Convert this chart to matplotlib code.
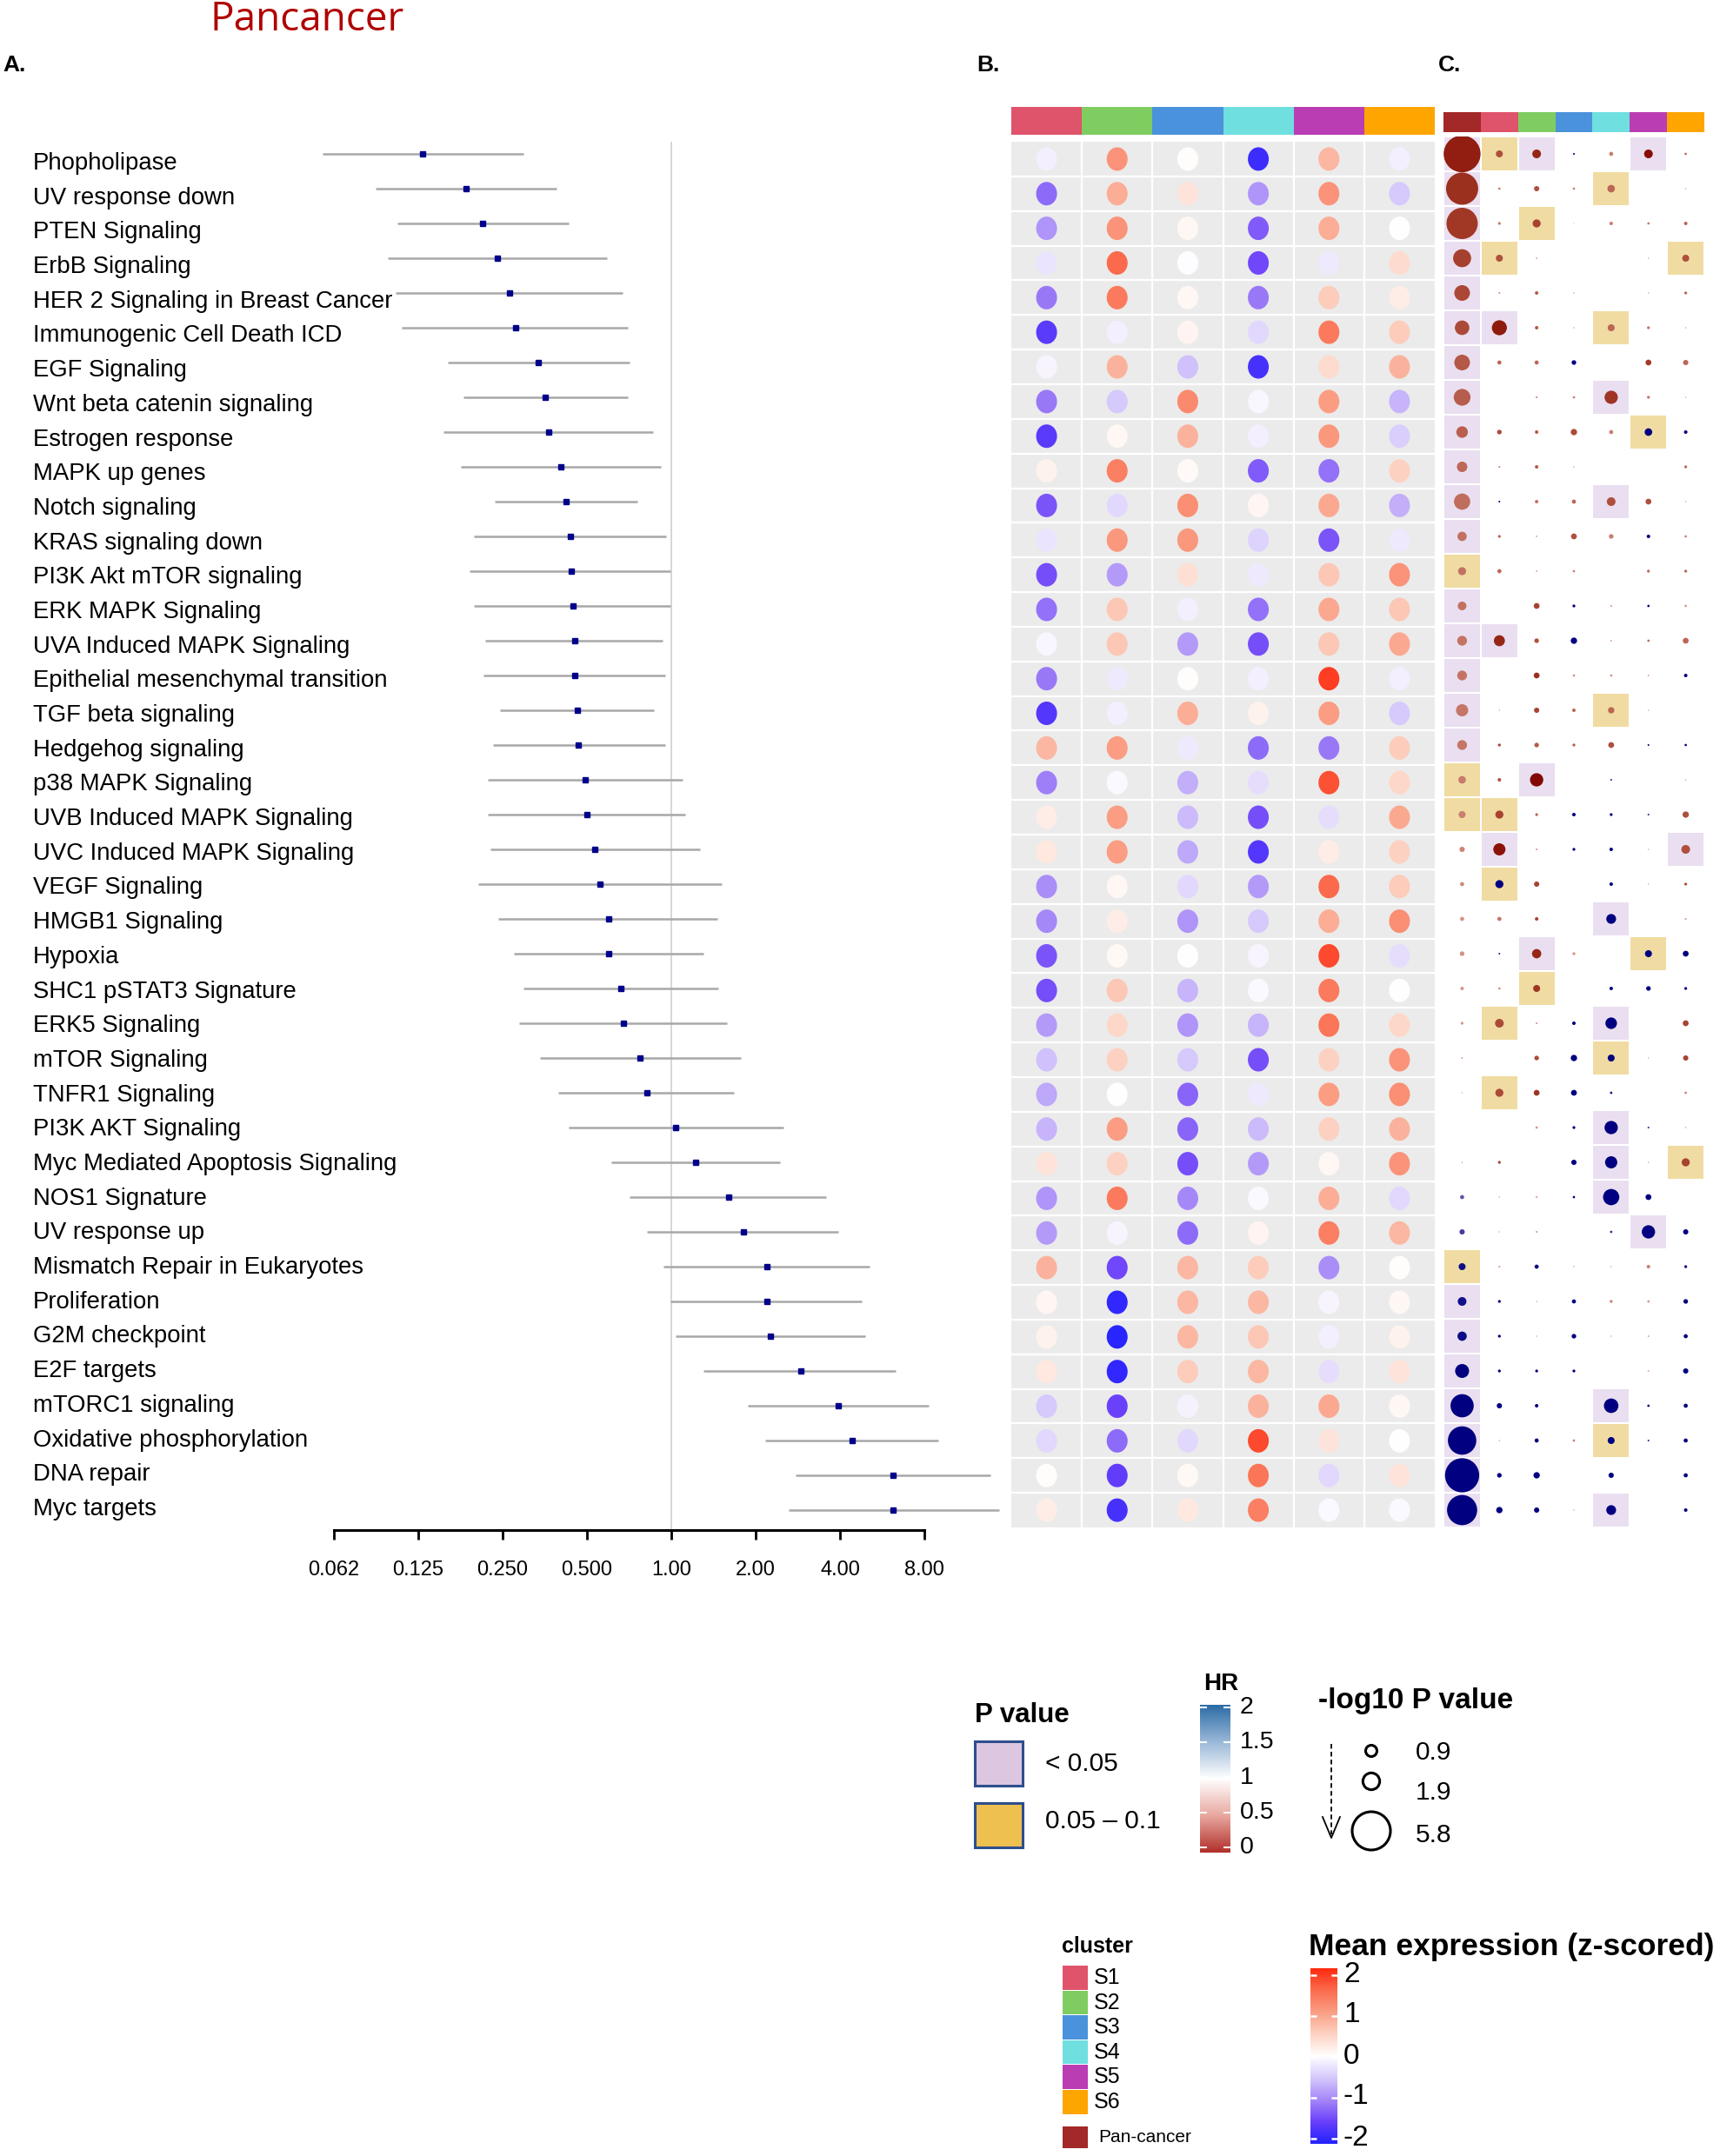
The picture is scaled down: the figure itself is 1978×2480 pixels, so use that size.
import numpy as np
import matplotlib
matplotlib.use('Agg')
import matplotlib.pyplot as plt
from matplotlib.colors import LinearSegmentedColormap
from matplotlib.patches import Rectangle, Circle
from matplotlib.path import Path

plt.rcParams['font.family'] = ['Liberation Sans', 'DejaVu Sans']

# ---- data ----
pathways = ['Phopholipase', 'UV response down', 'PTEN Signaling', 'ErbB Signaling',
            'HER 2 Signaling in Breast Cancer', 'Immunogenic Cell Death ICD', 'EGF Signaling',
            'Wnt beta catenin signaling', 'Estrogen response', 'MAPK up genes', 'Notch signaling',
            'KRAS signaling down', 'PI3K Akt mTOR signaling', 'ERK MAPK Signaling',
            'UVA Induced MAPK Signaling', 'Epithelial mesenchymal transition', 'TGF beta signaling',
            'Hedgehog signaling', 'p38 MAPK Signaling', 'UVB Induced MAPK Signaling',
            'UVC Induced MAPK Signaling', 'VEGF Signaling', 'HMGB1 Signaling', 'Hypoxia',
            'SHC1 pSTAT3 Signature', 'ERK5 Signaling', 'mTOR Signaling', 'TNFR1 Signaling',
            'PI3K AKT Signaling', 'Myc Mediated Apoptosis Signaling', 'NOS1 Signature',
            'UV response up', 'Mismatch Repair in Eukaryotes', 'Proliferation', 'G2M checkpoint',
            'E2F targets', 'mTORC1 signaling', 'Oxidative phosphorylation', 'DNA repair', 'Myc targets']

# pan-cancer hazard ratio and 95% CI (panel A)
hr = [0.13, 0.185, 0.212, 0.24, 0.265, 0.278, 0.336, 0.355, 0.364, 0.403, 0.421, 0.436, 0.441,
      0.446, 0.451, 0.451, 0.461, 0.466, 0.494, 0.499, 0.534, 0.558, 0.598, 0.598, 0.662, 0.677,
      0.775, 0.82, 1.04, 1.22, 1.60, 1.81, 2.19, 2.19, 2.26, 2.90, 3.94, 4.41, 6.19, 6.19]
hr_lo = [0.057, 0.088, 0.105, 0.097, 0.104, 0.109, 0.159, 0.181, 0.154, 0.177, 0.234, 0.198, 0.191,
         0.198, 0.216, 0.214, 0.245, 0.231, 0.221, 0.221, 0.226, 0.204, 0.242, 0.274, 0.297, 0.287,
         0.340, 0.394, 0.431, 0.611, 0.708, 0.820, 0.939, 0.99, 1.04, 1.30, 1.87, 2.16, 2.78, 2.62]
hr_hi = [0.297, 0.389, 0.431, 0.591, 0.669, 0.700, 0.708, 0.700, 0.858, 0.918, 0.758, 0.960, 0.99,
         0.99, 0.928, 0.949, 0.868, 0.949, 1.10, 1.125, 1.27, 1.51, 1.46, 1.30, 1.47, 1.58, 1.77,
         1.67, 2.51, 2.45, 3.56, 3.94, 5.11, 4.77, 4.93, 6.33, 8.29, 8.98, 13.8, 14.8]

clusters = ['S1', 'S2', 'S3', 'S4', 'S5', 'S6']
cluster_colors = ['#DF536B', '#7FCD60', '#4A92DB', '#6FDFE0', '#BA3DB3', '#FFA500']
pan_color = '#A32828'

# panel B: mean expression (z-scored), rows = pathways, cols = S1..S6
expr_rows = [
    [-0.15, 1.1, 0.02, -1.8, 0.75, -0.15], [-1.2, 0.85, 0.3, -0.9, 1.1, -0.5],
    [-0.9, 1.1, 0.08, -1.3, 0.85, 0.0], [-0.25, 1.5, -0.03, -1.45, -0.2, 0.4],
    [-1.1, 1.35, 0.08, -1.1, 0.55, 0.2], [-1.6, -0.15, 0.12, -0.35, 1.35, 0.55],
    [-0.1, 0.8, -0.55, -1.75, 0.4, 0.8], [-1.1, -0.5, 1.2, -0.08, 1.0, -0.65],
    [-1.6, 0.08, 0.8, -0.15, 1.05, -0.45], [0.15, 1.3, 0.05, -1.3, -1.15, 0.5],
    [-1.35, -0.35, 1.15, 0.1, 0.9, -0.7], [-0.25, 1.05, 1.05, -0.4, -1.35, -0.2],
    [-1.4, -0.85, 0.35, -0.2, 0.6, 1.1], [-1.15, 0.6, -0.15, -1.15, 0.9, 0.6],
    [-0.08, 0.6, -0.85, -1.4, 0.6, 0.9], [-1.1, -0.2, 0.02, -0.15, 1.85, -0.15],
    [-1.65, -0.15, 0.85, 0.15, 1.0, -0.5], [0.75, 1.0, -0.2, -1.2, -1.1, 0.55],
    [-1.05, -0.05, -0.7, -0.3, 1.7, 0.45], [0.2, 1.0, -0.6, -1.4, -0.3, 0.9],
    [0.25, 1.0, -0.75, -1.65, 0.2, 0.5], [-0.95, 0.08, -0.35, -0.85, 1.5, 0.55],
    [-1.0, 0.2, -0.9, -0.5, 0.85, 1.15], [-1.35, 0.07, 0.0, -0.1, 1.75, -0.3],
    [-1.4, 0.6, -0.65, -0.05, 1.35, 0.0], [-0.85, 0.45, -0.9, -0.65, 1.4, 0.45],
    [-0.55, 0.5, -0.5, -1.4, 0.5, 1.1], [-0.75, 0.0, -1.25, -0.2, 1.0, 1.15],
    [-0.65, 1.0, -1.25, -0.6, 0.5, 0.8], [0.3, 0.5, -1.4, -0.85, 0.08, 1.1],
    [-0.9, 1.35, -1.0, -0.05, 0.85, -0.35], [-0.85, -0.1, -1.2, 0.12, 1.3, 0.75],
    [0.8, -1.45, 0.75, 0.55, -0.95, 0.02], [0.1, -1.9, 0.75, 0.75, -0.1, 0.08],
    [0.15, -1.95, 0.75, 0.6, -0.15, 0.15], [0.25, -1.9, 0.55, 0.75, -0.3, 0.3],
    [-0.5, -1.5, -0.12, 0.8, 0.9, 0.08], [-0.35, -1.2, -0.35, 1.75, 0.3, 0.0],
    [0.03, -1.55, 0.07, 1.4, -0.35, 0.3], [0.2, -1.75, 0.25, 1.3, -0.05, -0.05]]

# panel C: -log10 P (cols = Pan-cancer, S1..S6)
nlogp_rows = [
    [5.6, 0.95, 1.22, 0.14, 0.5, 1.22, 0.23], [4.86, 0.23, 0.68, 0.23, 1.04, 0, 0.05],
    [4.73, 0.31, 1.12, 0.03, 0.41, 0.23, 0.41], [2.66, 0.95, 0.1, 0, 0, 0.05, 0.95],
    [2.3, 0.14, 0.41, 0.05, 0, 0.05, 0.31], [2.12, 2.2, 0.41, 0.05, 0.95, 0.31, 0.05],
    [2.3, 0.5, 0.5, 0.58, 0, 0.77, 0.68], [2.47, 0, 0.14, 0.23, 1.93, 0.31, 0.05],
    [1.66, 0.58, 0.41, 0.85, 0.5, 1.04, 0.41], [1.49, 0.14, 0.41, 0.05, 0, 0, 0.31],
    [2.39, 0.14, 0.41, 0.5, 1.22, 0.77, 0.05], [1.31, 0.31, 0.1, 0.77, 0.58, 0.41, 0.23],
    [1.12, 0.5, 0.1, 0.23, 0, 0.31, 0.31], [1.22, 0, 0.77, 0.31, 0.14, 0.23, 0.23],
    [1.39, 1.58, 0.58, 0.85, 0.1, 0.23, 0.77], [1.39, 0, 0.77, 0.23, 0.23, 0.1, 0.41],
    [1.76, 0.05, 0.68, 0.41, 0.85, 0.05, 0], [1.39, 0.31, 0.58, 0.31, 0.77, 0.14, 0.23],
    [1.04, 0.41, 1.93, 0, 0.14, 0, 0.05], [0.95, 1.12, 0.31, 0.41, 0.31, 0.14, 0.85],
    [0.68, 1.76, 0.14, 0.31, 0.41, 0.05, 1.22], [0.5, 1.12, 0.68, 0, 0.41, 0.05, 0.31],
    [0.5, 0.5, 0.41, 0, 1.39, 0, 0.14], [0.58, 0.14, 1.31, 0.31, 0, 0.95, 0.77],
    [0.41, 0.23, 0.95, 0, 0.41, 0.58, 0.31], [0.31, 1.22, 0.14, 0.41, 1.66, 0, 0.77],
    [0.14, 0, 0.58, 0.85, 0.95, 0.05, 0.68], [0.05, 1.12, 0.77, 0.77, 0.23, 0, 0.23],
    [0, 0, 0.23, 0.31, 1.93, 0.14, 0.05], [0.05, 0.31, 0, 0.68, 1.76, 0.05, 1.12],
    [0.5, 0.05, 0.14, 0.23, 2.39, 0.77, 0], [0.68, 0.05, 0.14, 0, 0.23, 1.93, 0.68],
    [0.95, 0.14, 0.5, 0.05, 0.05, 0.41, 0.31], [1.22, 0.31, 0.05, 0.5, 0.31, 0.23, 0.58],
    [1.31, 0.31, 0.05, 0.58, 0.05, 0.1, 0.5], [2.03, 0.31, 0.31, 0.31, 0, 0.1, 0.68],
    [3.47, 0.68, 0.41, 0, 2.12, 0.23, 0.5], [4.28, 0.05, 0.5, 0.23, 0.95, 0.14, 0.5],
    [5.18, 0.58, 0.85, 0, 0.68, 0, 0.5], [4.55, 0.85, 0.68, 0.05, 1.39, 0, 0.41]]

# panel C: HR per cluster (S1..S6); pan-cancer column uses hr above
hr_cluster_rows = [
    [0.3, 0.15, 2.5, 0.5, 0.08, 0.4], [0.5, 0.3, 0.5, 0.4, 1.0, 0.6],
    [0.5, 0.25, 1.0, 0.5, 0.45, 0.4], [0.3, 0.6, 1.0, 1.0, 0.6, 0.3],
    [0.6, 0.35, 0.6, 1.0, 0.6, 0.4], [0.12, 0.35, 0.6, 0.4, 0.45, 0.6],
    [0.4, 0.4, 2.5, 1.0, 0.22, 0.4], [1.0, 0.5, 0.5, 0.2, 0.45, 0.6],
    [0.28, 0.35, 0.28, 0.5, 2.5, 2.5], [0.5, 0.35, 0.6, 1.0, 1.0, 0.4],
    [2.5, 0.45, 0.4, 0.3, 0.3, 0.6], [0.4, 0.6, 0.3, 0.5, 2.5, 0.5],
    [0.4, 0.6, 0.5, 1.0, 0.4, 0.4], [1.0, 0.25, 2.5, 0.6, 2.5, 0.6],
    [0.15, 0.3, 2.5, 0.6, 0.4, 0.4], [1.0, 0.18, 0.6, 0.6, 0.6, 2.5],
    [0.6, 0.25, 0.4, 0.4, 0.6, 1.0], [0.25, 0.35, 0.35, 0.3, 2.5, 2.5],
    [0.3, 0.05, 1.0, 2.0, 1.0, 0.6], [0.25, 0.4, 2.5, 2.5, 2.0, 0.3],
    [0.1, 0.6, 2.5, 2.5, 0.6, 0.3], [2.5, 0.25, 1.0, 2.5, 0.6, 0.3],
    [0.45, 0.25, 1.0, 2.5, 1.0, 0.6], [2.0, 0.15, 0.6, 1.0, 2.5, 2.5],
    [0.6, 0.2, 1.0, 2.5, 2.5, 2.5], [0.28, 0.6, 2.5, 2.5, 1.0, 0.25],
    [1.0, 0.28, 2.5, 2.5, 0.6, 0.25], [0.28, 0.2, 2.5, 2.5, 1.0, 0.5],
    [1.0, 0.6, 2.5, 2.5, 2.0, 0.6], [0.25, 1.0, 2.5, 2.5, 0.6, 0.25],
    [0.6, 0.6, 2.5, 2.5, 2.5, 1.0], [0.6, 0.6, 1.0, 2.0, 2.5, 2.5],
    [0.6, 2.5, 0.6, 0.6, 0.5, 2.5], [2.5, 0.6, 2.5, 0.5, 0.6, 2.5],
    [2.5, 0.6, 2.5, 0.6, 0.6, 2.5], [2.5, 2.5, 2.5, 1.0, 0.6, 2.5],
    [2.5, 2.5, 1.0, 2.5, 2.5, 2.5], [0.6, 2.5, 0.5, 2.5, 2.0, 2.5],
    [2.5, 2.5, 1.0, 2.5, 1.0, 2.5], [2.5, 2.5, 0.6, 2.5, 1.0, 2.5]]

# panel C: P value class (0 = n.s., 1 = < 0.05, 2 = 0.05-0.1)
sig_rows = [
    [1, 2, 1, 0, 0, 1, 0], [1, 0, 0, 0, 2, 0, 0], [1, 0, 2, 0, 0, 0, 0], [1, 2, 0, 0, 0, 0, 2],
    [1, 0, 0, 0, 0, 0, 0], [1, 1, 0, 0, 2, 0, 0], [1, 0, 0, 0, 0, 0, 0], [1, 0, 0, 0, 1, 0, 0],
    [1, 0, 0, 0, 0, 2, 0], [1, 0, 0, 0, 0, 0, 0], [1, 0, 0, 0, 1, 0, 0], [1, 0, 0, 0, 0, 0, 0],
    [2, 0, 0, 0, 0, 0, 0], [1, 0, 0, 0, 0, 0, 0], [1, 1, 0, 0, 0, 0, 0], [1, 0, 0, 0, 0, 0, 0],
    [1, 0, 0, 0, 2, 0, 0], [1, 0, 0, 0, 0, 0, 0], [2, 0, 1, 0, 0, 0, 0], [2, 2, 0, 0, 0, 0, 0],
    [0, 1, 0, 0, 0, 0, 1], [0, 2, 0, 0, 0, 0, 0], [0, 0, 0, 0, 1, 0, 0], [0, 0, 1, 0, 0, 2, 0],
    [0, 0, 2, 0, 0, 0, 0], [0, 2, 0, 0, 1, 0, 0], [0, 0, 0, 0, 2, 0, 0], [0, 2, 0, 0, 0, 0, 0],
    [0, 0, 0, 0, 1, 0, 0], [0, 0, 0, 0, 1, 0, 2], [0, 0, 0, 0, 1, 0, 0], [0, 0, 0, 0, 0, 1, 0],
    [2, 0, 0, 0, 0, 0, 0], [1, 0, 0, 0, 0, 0, 0], [1, 0, 0, 0, 0, 0, 0], [1, 0, 0, 0, 0, 0, 0],
    [1, 0, 0, 0, 1, 0, 0], [1, 0, 0, 0, 2, 0, 0], [1, 0, 0, 0, 0, 0, 0], [1, 0, 0, 0, 1, 0, 0]]

xticks_hr = [0.0625, 0.125, 0.25, 0.5, 1, 2, 4, 8]
xtick_labels = ['0.062', '0.125', '0.250', '0.500', '1.00', '2.00', '4.00', '8.00']
legend_nlogp = [0.9, 1.9, 5.8]

# ---- colour maps ----
expr_cmap = LinearSegmentedColormap.from_list(
    'expr', [(0, '#2222FF'), (0.125, '#6A40FA'), (0.25, '#A587F8'), (0.375, '#D6C8FC'),
             (0.5, '#FFFFFF'), (0.625, '#FDD2C2'), (0.75, '#FA9E84'), (0.875, '#FB6C4E'),
             (1, '#FF2A10')])
dot_nodes = [(0.0, '#7A0000'), (0.1, '#8B1208'), (0.15, '#962818'), (0.22, '#A43C2A'),
             (0.3, '#B05040'), (0.45, '#C47464'), (0.6, '#D39282'), (0.85, '#DDAAA0'),
             (1.0, '#E2C4C4'), (1.4, '#8068B8'), (1.8, '#5038A0'), (2.2, '#10108A'), (2.5, '#000080')]
dot_cmap = LinearSegmentedColormap.from_list('hrdot', [(v / 2.5, c) for v, c in dot_nodes])
hr_cmap = LinearSegmentedColormap.from_list('hrbar', ['#B0302A', '#E8A8A0', '#FFFFFF', '#9AB8D8', '#2C6CA6'])

W, H = 1978, 2480
PT = 72 / 100
fig = plt.figure(figsize=(W / 100, H / 100), dpi=100)


def px_axes(x0, y0, x1, y1):
    return fig.add_axes([x0 / W, 1 - y1 / H, (x1 - x0) / W, (y1 - y0) / H])


rows = np.arange(len(pathways))

# ---- panel A: forest plot ----
axA = px_axes(384, 163, 1160, 1760)
axA.set_xscale('log', base=2)
axA.set_xlim(2 ** -4, 2 ** 4)
axA.set_ylim(39.575, -0.35)
axA.axvline(1, color='#CCCCCC', lw=1.1, zorder=0)
axA.hlines(rows, hr_lo, hr_hi, color='#A8A8A8', lw=1.8, clip_on=False, zorder=1)
axA.plot(hr, rows, 's', color='#00008B', ms=5, zorder=3, clip_on=False)
for s in ['left', 'right', 'top']:
    axA.spines[s].set_visible(False)
axA.spines['bottom'].set_linewidth(2.2)
axA.spines['bottom'].set_bounds(2 ** -4, 8)
axA.set_xticks(xticks_hr)
axA.set_xticklabels(xtick_labels)
axA.xaxis.set_minor_locator(matplotlib.ticker.NullLocator())
axA.tick_params(axis='x', length=8, width=2, pad=17, labelsize=17)
axA.set_yticks([])
axA.patch.set_alpha(0)

# ---- panel B: mean expression dots ----
axBb = px_axes(1163, 123, 1650, 155)
axBb.bar(range(6), 1, width=1, color=cluster_colors)
axBb.set_xlim(-0.5, 5.5)
axBb.set_ylim(0, 1)
axBb.axis('off')

axB = px_axes(1163, 163, 1650, 1757)
axB.set_facecolor('#EBEBEB')
axB.set_xlim(-0.5, 5.5)
axB.set_ylim(39.5, -0.5)
for x in np.arange(0.5, 5, 1):
    axB.axvline(x, color='white', lw=1.6)
for y in np.arange(0.5, 39, 1):
    axB.axhline(y, color='white', lw=1.6)
t = np.linspace(0, 2 * np.pi, 64)
ellipse = Path(np.column_stack([0.89 * np.cos(t), np.sin(t)]))
bx, by = np.meshgrid(np.arange(6), rows)
axB.scatter(bx.ravel(), by.ravel(), c=np.array(expr_rows).ravel(), cmap=expr_cmap,
            vmin=-2, vmax=2, s=(27 * PT) ** 2, marker=ellipse, linewidths=0, zorder=3)
for s in axB.spines.values():
    s.set_visible(False)
axB.set_xticks([])
axB.set_yticks([])

# ---- panel C: survival dots ----
axCb = px_axes(1660, 129, 1960, 152)
axCb.bar(range(7), 1, width=1, color=[pan_color] + cluster_colors)
axCb.set_xlim(-0.5, 6.5)
axCb.set_ylim(0, 1)
axCb.axis('off')

axC = px_axes(1660, 157, 1960, 1757)
axC.set_xlim(-0.5, 6.5)
axC.set_ylim(39.5, -0.5)
axC.axis('off')
sig = np.array(sig_rows)
bg = {1: '#EADFF0', 2: '#F0DCA2'}
for i in range(sig.shape[0]):
    for j in range(sig.shape[1]):
        if sig[i, j]:
            axC.add_patch(Rectangle((j - 0.48, i - 0.48), 0.96, 0.96, fc=bg[sig[i, j]], ec='none', zorder=1))
nlogp = np.array(nlogp_rows)
hr_all = np.column_stack([hr, np.array(hr_cluster_rows)])
diam = np.where(nlogp > 0, 1 + 7.4 * nlogp, 0)
cx, cy = np.meshgrid(np.arange(7), rows)
axC.scatter(cx.ravel(), cy.ravel(), s=(diam.ravel() * PT) ** 2, c=hr_all.ravel(), cmap=dot_cmap,
            vmin=0, vmax=2.5, linewidths=0, zorder=3)

# ---- overlay for text and legends (pixel coordinates) ----
leg = fig.add_axes([0, 0, 1, 1])
leg.set_xlim(0, W)
leg.set_ylim(H, 0)
leg.axis('off')
leg.patch.set_alpha(0)

# pathway names (their own slightly tighter spacing than the forest rows)
for i, name in enumerate(pathways):
    leg.text(38, 195 + 39.69 * i, name, ha='left', va='baseline', fontsize=19.8)

leg.text(353, 35, 'Pancancer', color='#B00000', fontsize=33, ha='center', va='baseline',
         family='Open Sans')
for lab, x in [('A.', 3), ('B.', 1123), ('C.', 1654)]:
    leg.text(x, 82, lab, fontsize=19, fontweight='bold', ha='left', va='baseline')

# P value legend
leg.text(1121, 1973, 'P value', fontsize=22.5, fontweight='bold', ha='left', va='center')
leg.add_patch(Rectangle((1121, 2003), 55, 51, fc='#DCC6E0', ec='#2E4E8C', lw=2.2))
leg.add_patch(Rectangle((1121, 2074), 55, 51, fc='#EEC050', ec='#2E4E8C', lw=2.2))
leg.text(1202, 2029, '< 0.05', fontsize=21.5, ha='left', va='center')
leg.text(1202, 2095, '0.05 \u2013 0.1', fontsize=21.5, ha='left', va='center')

# HR colour bar
leg.text(1404, 1937, 'HR', fontsize=20, fontweight='bold', ha='center', va='center')
axH = px_axes(1380, 1961, 1415, 2131)
axH.imshow(np.linspace(0, 2, 256)[:, None], aspect='auto', cmap=hr_cmap, origin='lower',
           extent=(0, 1, -0.075, 2.037), vmin=0, vmax=2)
hr_ticks = [0, 0.5, 1, 1.5, 2]
axH.hlines(hr_ticks, 0, 0.22, color='white', lw=1.5)
axH.hlines(hr_ticks, 0.78, 1, color='white', lw=1.5)
axH.set_xlim(0, 1)
axH.set_ylim(-0.075, 2.037)
axH.axis('off')
for tk in hr_ticks:
    leg.text(1426, 2125 - 80.5 * tk, '%g' % tk, fontsize=20.5, ha='left', va='center')

# -log10 P size legend
leg.text(1516, 1957, '-log10 P value', fontsize=24, fontweight='bold', ha='left', va='center')
leg.plot([1531, 1531], [2006, 2110], color='black', lw=1.3, ls=(0, (3, 2)))
leg.plot([1521, 1531, 1541], [2090, 2114, 2090], color='black', lw=1.3)
for v, y, ty in zip(legend_nlogp, [2014, 2049, 2106], [2016, 2062, 2111]):
    leg.add_patch(Circle((1577, y), (7.3 + 6.33 * v) / 2, fc='none', ec='black', lw=2.2))
    leg.text(1628, ty, '%.1f' % v, fontsize=21.5, ha='left', va='center')

# cluster legend
leg.text(1221, 2239, 'cluster', fontsize=18, fontweight='bold', ha='left', va='center')
for k, (name, col) in enumerate(zip(clusters, cluster_colors)):
    y0 = 2261 + k * 28.6
    leg.add_patch(Rectangle((1222, y0), 29, 27.5, fc=col, ec='none'))
    leg.text(1258, y0 + 14, name, fontsize=18, ha='left', va='center')
leg.add_patch(Rectangle((1222, 2446), 29, 25, fc=pan_color, ec='none'))
leg.text(1263, 2459, 'Pan-cancer', fontsize=15, ha='left', va='center')

# mean expression colour bar
leg.text(1505, 2239, 'Mean expression (z-scored)', fontsize=25.5, fontweight='bold', ha='left', va='center')
axE = px_axes(1507, 2264, 1538, 2466)
axE.imshow(np.linspace(-2, 2, 256)[:, None], aspect='auto', cmap=expr_cmap, origin='lower',
           extent=(0, 1, -2.13, 2.17), vmin=-2, vmax=2)
e_ticks = [-2, -1, 0, 1, 2]
axE.hlines(e_ticks, 0, 0.22, color='white', lw=1.8)
axE.hlines(e_ticks, 0.78, 1, color='white', lw=1.8)
axE.set_xlim(0, 1)
axE.set_ylim(-2.13, 2.17)
axE.axis('off')
for tk in e_ticks:
    leg.text(1545, 2365 - 47 * tk, '%d' % tk, fontsize=24, ha='left', va='center')

fig.savefig('out.png', dpi=100)
